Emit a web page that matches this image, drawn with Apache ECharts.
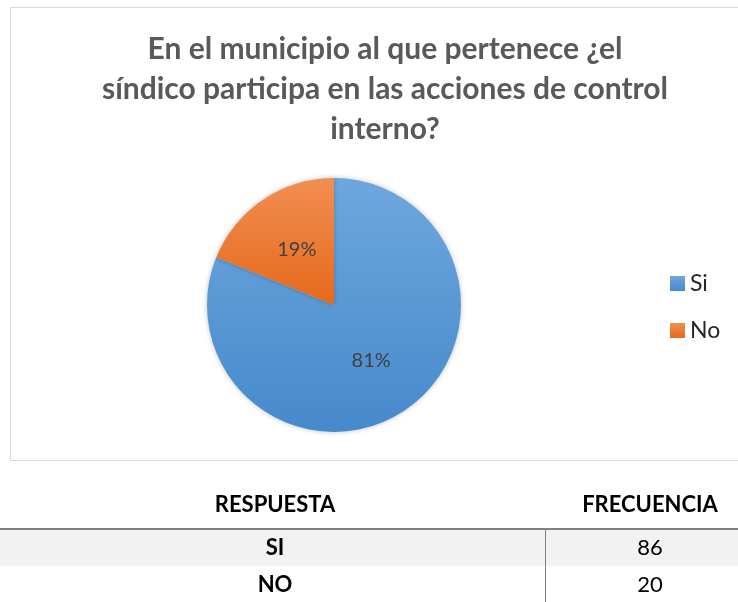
<!DOCTYPE html>
<html>
<head>
<meta charset="utf-8">
<script src="https://cdn.jsdelivr.net/npm/echarts@6/dist/echarts.min.js"></script>
<style>
  html, body { margin: 0; padding: 0; background: #fff; }
  #chart { width: 738px; height: 602px; }
</style>
</head>
<body>
<div id="chart"></div>
<script>
// datos del gráfico
const categories = ['Si', 'No']
const values = [86, 20]
const colors = [['#6ea7dd', '#4689cc'], ['#f28e52', '#e5691b']]

// datos de la tabla
const tableHeaders = ['RESPUESTA', 'FRECUENCIA']
const tableAnswers = ['SI', 'NO']
const tableFreqs = [86, 20]

const titleText = 'En el municipio al que pertenece ¿el\nsíndico participa en las acciones de control\ninterno?'
const font = 'Lato, "Open Sans", sans-serif'

const chart = echarts.init(document.getElementById('chart'))

const colX = [275, 650]
const rowTop = 529
const rowH = 37

const graphics = [{
  type: 'rect',
  silent: true,
  shape: { x: 10.5, y: 7.5, width: 740, height: 453 },
  style: { fill: 'none', stroke: '#d9d9d9', lineWidth: 1 },
  z: -1
}]
tableHeaders.forEach((h, i) => {
  graphics.push({
    type: 'text',
    style: {
      text: h, x: colX[i], y: 505, textAlign: 'center', textVerticalAlign: 'middle',
      font: 'bold 22px ' + font, fill: '#000'
    }
  })
})
tableAnswers.forEach((a, r) => {
  const yc = rowTop + rowH * r + rowH / 2
  if (r % 2 === 0) {
    graphics.push({
      type: 'rect',
      shape: { x: 0, y: rowTop + rowH * r, width: 738, height: rowH },
      style: { fill: '#f2f2f2' },
      z: -2
    })
  }
  graphics.push({
    type: 'text',
    style: {
      text: a, x: colX[0], y: yc, textAlign: 'center', textVerticalAlign: 'middle',
      font: 'bold 22px ' + font, fill: '#000'
    }
  })
  graphics.push({
    type: 'text',
    style: {
      text: String(tableFreqs[r]), x: colX[1], y: yc, textAlign: 'center', textVerticalAlign: 'middle',
      font: '22px ' + font, fill: '#000'
    }
  })
})
graphics.push({
  type: 'line',
  shape: { x1: 0, y1: rowTop, x2: 738, y2: rowTop },
  style: { stroke: '#808080', lineWidth: 2 }
})
graphics.push({
  type: 'line',
  shape: { x1: 545.5, y1: rowTop, x2: 545.5, y2: 602 },
  style: { stroke: '#808080', lineWidth: 1 }
})

chart.setOption({
  animation: false,
  title: {
    text: titleText,
    left: 380,
    top: 24,
    textAlign: 'center',
    textStyle: {
      fontFamily: font,
      fontSize: 30,
      fontWeight: 'bold',
      color: '#595959',
      lineHeight: 40
    }
  },
  legend: {
    orient: 'vertical',
    left: 665,
    top: 267,
    itemWidth: 15,
    itemHeight: 15,
    itemGap: 24,
    icon: 'rect',
    textStyle: { fontFamily: font, fontSize: 23, color: '#262626' },
    data: categories
  },
  graphic: graphics,
  series: [{
    type: 'pie',
    center: [334, 305],
    radius: 127,
    startAngle: 90,
    clockwise: true,
    label: {
      position: 'inside',
      formatter: p => Math.round(p.percent) + '%',
      fontFamily: font,
      fontSize: 20,
      color: '#404040'
    },
    labelLine: { show: false },
    itemStyle: {
      shadowBlur: 5,
      shadowColor: 'rgba(0,0,0,0.25)'
    },
    emphasis: { disabled: true },
    data: categories.map((c, i) => ({
      name: c,
      value: values[i],
      itemStyle: {
        color: new echarts.graphic.LinearGradient(0, 0, 0, 1, [
          { offset: 0, color: colors[i][0] },
          { offset: 1, color: colors[i][1] }
        ])
      }
    }))
  }]
})
</script>
</body>
</html>
